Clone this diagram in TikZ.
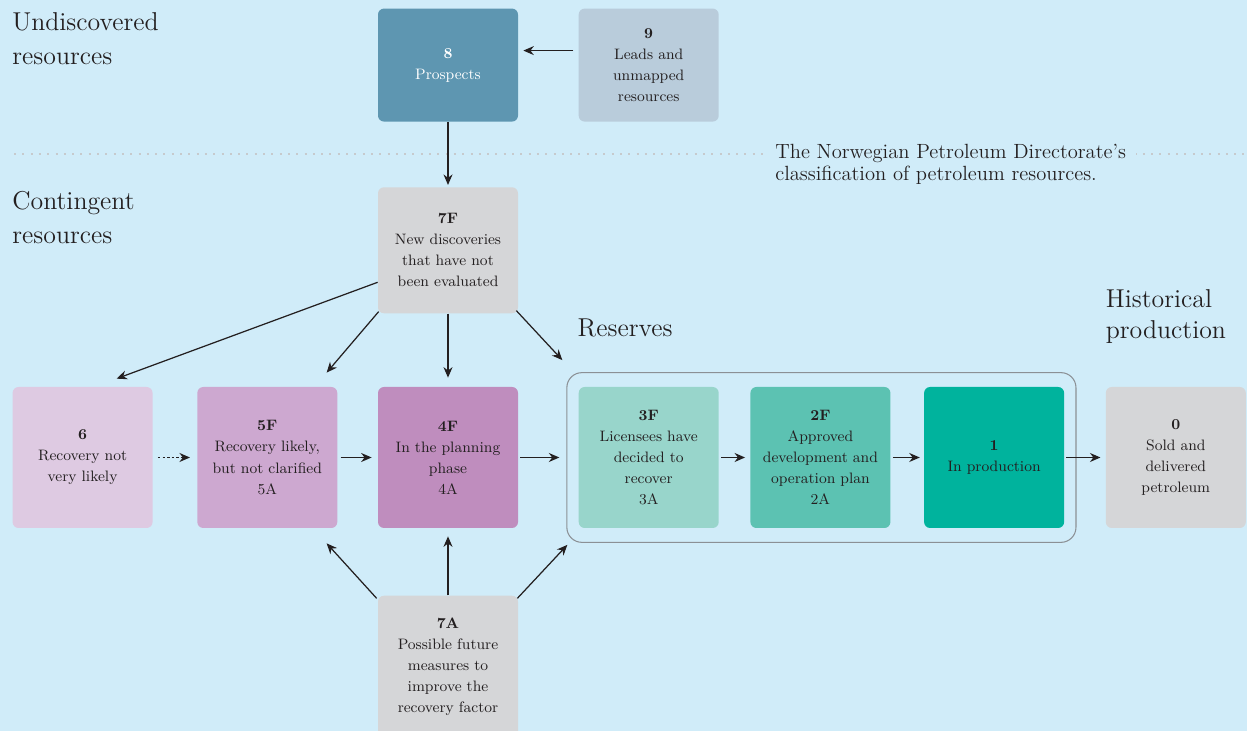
\documentclass[tikz,border=0pt]{standalone}
\usepackage{xcolor}
\usepackage{tikz}
\usetikzlibrary{positioning, arrows.meta, fit}

\definecolor{skyback}{HTML}{D0ECF9}
\definecolor{inkblack}{HTML}{231F20}
\definecolor{prospblue}{HTML}{5E96B1}
\definecolor{leadsblue}{HTML}{B9CCDB}
\definecolor{softgray}{HTML}{D5D6D8}
\definecolor{lilac1}{HTML}{DECAE2}
\definecolor{lilac2}{HTML}{CDA8D0}
\definecolor{lilac3}{HTML}{BF8DBE}
\definecolor{teal1}{HTML}{98D5CB}
\definecolor{teal2}{HTML}{5CC2B2}
\definecolor{teal3}{HTML}{00B39D}
\definecolor{framegray}{HTML}{8B9095}
\definecolor{dotgray}{HTML}{C6CACD}

\begin{document}
\begin{tikzpicture}[node distance=1cm and 1.2cm]

			% Styles
			\tikzset{
				resbox/.style={
					rectangle, rounded corners=0.12cm, inner sep=0pt,
					minimum width=2.8cm, text width=2.6cm, align=center,
					font={\fontsize{8.6}{12}\selectfont}, text=inkblack
				},
				topbox/.style={resbox, minimum height=2.26cm},
				midbox/.style={resbox, minimum height=2.52cm},
				rowbox/.style={resbox, minimum height=2.82cm},
				lowbox/.style={resbox, minimum height=2.84cm},
				heading/.style={
					align=left, inner sep=0pt, text=inkblack,
					font={\fontsize{14.7}{19.4}\selectfont}
				},
				arrow/.style={line width=0.7pt, draw=inkblack,
					-{Stealth[length=2.1mm, width=1.8mm]}},
				dotarrow/.style={arrow, dash pattern=on 1.4pt off 1.2pt}
			}

			% Background
			\fill[skyback] (0,0) rectangle (24.94,-14.62);
			\useasboundingbox (0,0) rectangle (24.94,-14.62);
			\draw[dotgray, line width=0.04cm, dash pattern=on 0.04cm off 0.126cm]
				(0.28,-3.08) -- (24.94,-3.08);

			% Contingent row
			\node (planning) [rowbox, fill=lilac3] at (8.96,-9.15) {\textbf{4F}\\In the planning\\phase\\4A};
			\node (likely) [rowbox, fill=lilac2, left=0.8cm of planning] {\textbf{5F}\\Recovery likely,\\but not clarified\\5A};
			\node (notlikely) [rowbox, fill=lilac1, left=0.88cm of likely] {\textbf{6}\\Recovery not\\very likely};

			% Reserves
			\node (decided) [rowbox, fill=teal1, right=1.2cm of planning] {\textbf{3F}\\Licensees have\\decided to\\recover\\3A};
			\node (approved) [rowbox, fill=teal2, right=0.62cm of decided] {\textbf{2F}\\Approved\\development and\\operation plan\\2A};
			\node (inprod) [rowbox, fill=teal3, right=0.66cm of approved] {\textbf{1}\\In production};
			\node (reserves) [draw=framegray, line width=0.6pt, rounded corners=0.3cm,
				inner xsep=0.23cm, inner ysep=0.28cm, fit=(decided)(inprod)] {};

			% Historical production
			\node (sold) [rowbox, fill=softgray, right=0.82cm of inprod] {\textbf{0}\\Sold and\\delivered\\petroleum};

			% Above and below
			\node (newdisc) [midbox, fill=softgray, above=1.46cm of planning] {\textbf{7F}\\New discoveries\\that have not\\been evaluated};
			\node (prospects) [topbox, fill=prospblue, text=white, above=1.3cm of newdisc] {\textbf{8}\\Prospects};
			\node (leads) [topbox, fill=leadsblue, right=1.2cm of prospects] {\textbf{9}\\Leads and\\unmapped\\resources};
			\node (future) [lowbox, fill=softgray, below=1.34cm of planning] {\textbf{7A}\\Possible future\\measures to\\improve the\\recovery factor};

			% Headings
			\node (undischead) [heading, anchor=north west] at (0.24,-0.24) {Undiscovered\\resources};
			\node (conthead) [heading, anchor=north west] at (0.24,-3.82) {Contingent\\resources};
			\node (reshead) [heading, anchor=base west] at ([xshift=0.22cm, yshift=0.72cm]reserves.north west) {Reserves};
			\node (histhead) [heading, anchor=north west, font={\fontsize{14.7}{17.2}\selectfont}]
				at ([yshift=1.94cm]sold.north west) {Historical\\production};
			\node (caption) [anchor=north west, align=left, fill=skyback, inner xsep=0.2cm, inner ysep=0.04cm,
				text=inkblack, font={\fontsize{11.7}{12.6}\selectfont}] at (15.3,-2.83)
				{The Norwegian Petroleum Directorate's\\classification of petroleum resources.};

			% Arrows
			\draw[arrow, shorten <=0.1cm, shorten >=0.1cm] ([yshift=0.29cm]leads.west) -- ([yshift=0.29cm]prospects.east);
			\draw[arrow, shorten >=0.04cm] (prospects.south) -- (newdisc.north);
			\draw[arrow] ([yshift=-0.64cm]newdisc.west) -- ([xshift=0.68cm, yshift=0.16cm]notlikely.north);
			\draw[arrow] ([xshift=0.02cm, yshift=0.04cm]newdisc.south west) -- ([xshift=-0.22cm, yshift=0.28cm]likely.north east);
			\draw[arrow, shorten >=0.18cm] (newdisc.south) -- (planning.north);
			\draw[arrow] ([xshift=-0.04cm, yshift=0.06cm]newdisc.south east) -- ([xshift=-0.08cm, yshift=0.24cm]reserves.north west);

			\draw[dotarrow, shorten <=0.1cm, shorten >=0.14cm] (notlikely.east) -- (likely.west);
			\draw[arrow, shorten <=0.06cm, shorten >=0.12cm] (likely.east) -- (planning.west);
			\draw[arrow, shorten <=0.04cm, shorten >=0.14cm] (planning.east) -- (reserves.west);
			\draw[arrow, shorten <=0.04cm, shorten >=0.1cm] (decided.east) -- (approved.west);
			\draw[arrow, shorten <=0.04cm, shorten >=0.08cm] (approved.east) -- (inprod.west);
			\draw[arrow, shorten <=0.04cm, shorten >=0.1cm] (inprod.east) -- (sold.west);

			\draw[arrow] ([xshift=-0.02cm, yshift=-0.06cm]future.north west) -- ([xshift=-0.22cm, yshift=-0.3cm]likely.south east);
			\draw[arrow, shorten >=0.16cm] (future.north) -- (planning.south);
			\draw[arrow] ([xshift=-0.02cm, yshift=-0.06cm]future.north east) -- ([xshift=0.02cm, yshift=-0.04cm]reserves.south west);

		\end{tikzpicture}
\end{document}
